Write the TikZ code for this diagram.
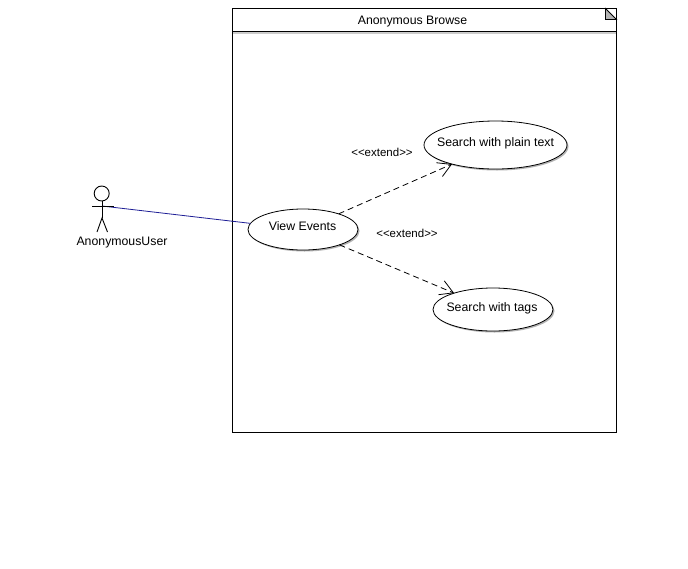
\documentclass[tikz,border=0pt]{standalone}
\usepackage{fontspec}
\setmainfont{Liberation Sans}
\usetikzlibrary{arrows.meta,shapes.geometric}
\definecolor{assoc}{RGB}{30,30,150}
\tikzset{
  x=1pt,y=-1pt,
  lbl/.style={inner sep=0pt,font=\fontsize{12.3}{14}\selectfont,text=black},
  stereo/.style={inner sep=0pt,font=\fontsize{11.5}{13}\selectfont,text=black},
  usecase/.style={ellipse,draw=black,fill=white,line width=0.8pt,inner sep=0pt,outer sep=0pt},
  shade ellipse/.style={ellipse,fill=black!30,draw=none,inner sep=0pt},
  extendline/.style={draw=black,line width=0.8pt,dash pattern=on 6pt off 4pt,-{Straight Barb[length=13pt,width=15pt,line width=0.8pt]}},
  assocline/.style={draw=assoc,line width=0.8pt},
  stick/.style={draw=black,line width=0.9pt}
}
\begin{document}
\begin{tikzpicture}
\useasboundingbox (0,0) rectangle (688,568);
\fill[white] (0,0) rectangle (688,568);
% system boundary
\fill[black!20] (233,32) rectangle (616,33.5);
\draw[black,line width=0.8pt] (232.5,8.5) rectangle (616.5,432.5);
\draw[black,line width=0.8pt] (232.5,31.5) -- (616.5,31.5);
\draw[black,line width=1.3pt] (616.5,20) -- (616.5,31.5);
\fill[black!30] (605.5,8.5) -- (616.5,19.5) -- (605.5,19.5) -- cycle;
\draw[black,line width=0.8pt] (605.5,8.5) -- (605.5,19.5) -- (616.5,19.5) -- cycle;
\node[lbl] (title) at (412.5,21.5) {Anonymous Browse};
% shadows
\node[shade ellipse,minimum width=110pt,minimum height=41pt] (viewS) at (304.5,231) {};
\node[shade ellipse,minimum width=143pt,minimum height=48pt] (plainS) at (497,146.5) {};
\node[shade ellipse,minimum width=120pt,minimum height=43pt] (tagsS) at (494.5,311) {};
% use cases
\node[usecase,minimum width=110pt,minimum height=41pt] (view) at (303,229.5) {};
\node[usecase,minimum width=143pt,minimum height=48pt] (plain) at (495.5,145) {};
\node[usecase,minimum width=120pt,minimum height=43pt] (tags) at (493,309.5) {};
\node[lbl] at (302.5,226.5) {View Events};
\node[lbl] at (495.5,143) {Search with plain text};
\node[lbl] at (492,308) {Search with tags};
% connectors
\coordinate (actor) at (102,206);
\draw[assocline] (actor) -- (view);
\path[extendline] (view) -- (plain);
\path[extendline] (view) -- (tags);
% actor
\draw[stick] (101.7,193.5) circle (7.5);
\draw[stick] (92,206) -- (114,206);
\draw[stick] (102,201) -- (102,218);
\draw[stick] (97,232) -- (102,218) -- (107.5,232);
\node[lbl] (actorlabel) at (122,243) {AnonymousUser};
\node[stereo] (e1) at (382,152) {<{}<extend>{}>};
\node[stereo] (e2) at (407,233) {<{}<extend>{}>};
\end{tikzpicture}
\end{document}
